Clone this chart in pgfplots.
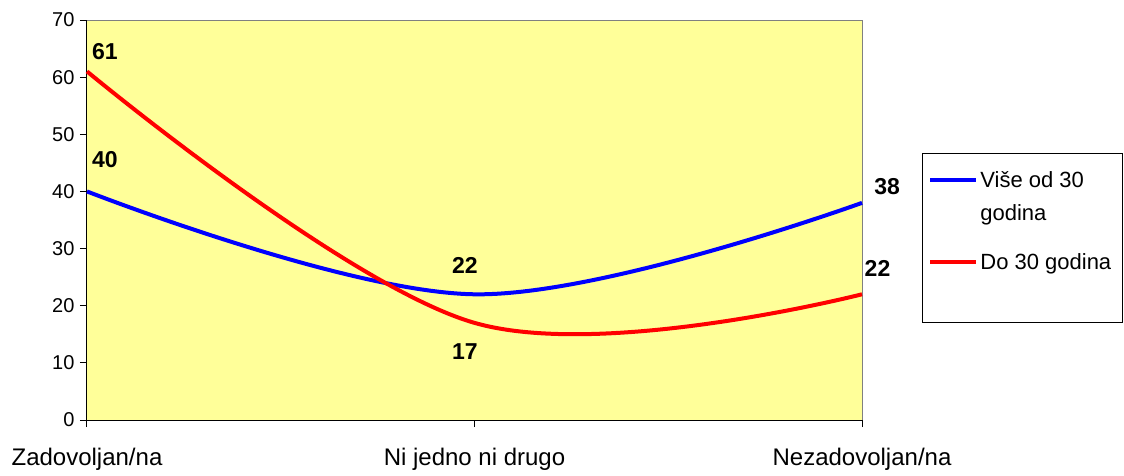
\documentclass[border=0pt]{standalone}
\usepackage{pgfplots}
\pgfplotsset{compat=1.18}
\usepackage{fontspec}
\setmainfont{Liberation Sans}
\definecolor{plotyellow}{RGB}{255,255,153}
\definecolor{axgray}{RGB}{128,128,128}
\begin{document}
\begin{tikzpicture}
\path[use as bounding box] (-87pt,-55pt) rectangle (1037pt,420pt);
\begin{axis}[
  at={(0,0)}, anchor=south west,
  scale only axis, width=775pt, height=400pt,
  xmin=0, xmax=2, ymin=0, ymax=70,
  xtick={0,1,2},
  xticklabels={Zadovoljan/na, Ni jedno ni drugo, Nezadovoljan/na},
  ytick={0,10,20,30,40,50,60,70},
  axis x line*=bottom, axis y line*=left,
  axis line style={-, black, line width=1pt},
  tick style={black, line width=1pt},
  tick align=outside, major tick length=7pt,
  axis background/.style={fill=plotyellow},
  clip=false,
  /pgf/number format/assume math mode=true,
  yticklabel style={font=\fontsize{20}{24}\selectfont, xshift=-2pt},
  xticklabel style={font=\fontsize{24}{28}\selectfont, yshift=-18pt},
  legend style={at={(1.0774,0.6675)}, anchor=north west, draw=black, line width=0.8pt,
    fill=white, font=\fontsize{22}{33}\selectfont, row sep=28pt, inner xsep=6pt, inner ysep=16pt,
    cells={anchor=base west}},
]
\draw[axgray, line width=1pt] (rel axis cs:0,1) -- (rel axis cs:1,1) -- (rel axis cs:1,0);
\addplot[blue, line width=4pt, smooth, tension=0.6,
  legend image code/.code={\draw[blue, line width=4pt] (0pt,40.5pt) -- (46pt,40.5pt);}]
  coordinates {(0,40) (1,22) (2,38)};
\addlegendentry{\vbox{\hbox{Više od 30}\hbox{godina}}}
\addplot[red, line width=4pt, smooth, tension=0.6,
  legend image code/.code={\draw[red, line width=4pt] (0pt,40.1pt) -- (46pt,40.1pt);}]
  coordinates {(0,61) (1,17) (2,22)};
\addlegendentry{\vbox{\hbox{Do 30 godina\hspace{3pt}}\vskip 28pt}}
\begin{scope}[every node/.style={font=\bfseries\fontsize{23}{27}\selectfont}]
\node at (axis cs:0.046,64.4) {61};
\node at (axis cs:0.046,45.5) {40};
\node at (axis cs:0.975,27.1) {22};
\node at (axis cs:0.975,11.9) {17};
\node at (axis cs:2.065,40.8) {38};
\node at (axis cs:2.04,26.6) {22};
\end{scope}
\end{axis}
\end{tikzpicture}
\end{document}
